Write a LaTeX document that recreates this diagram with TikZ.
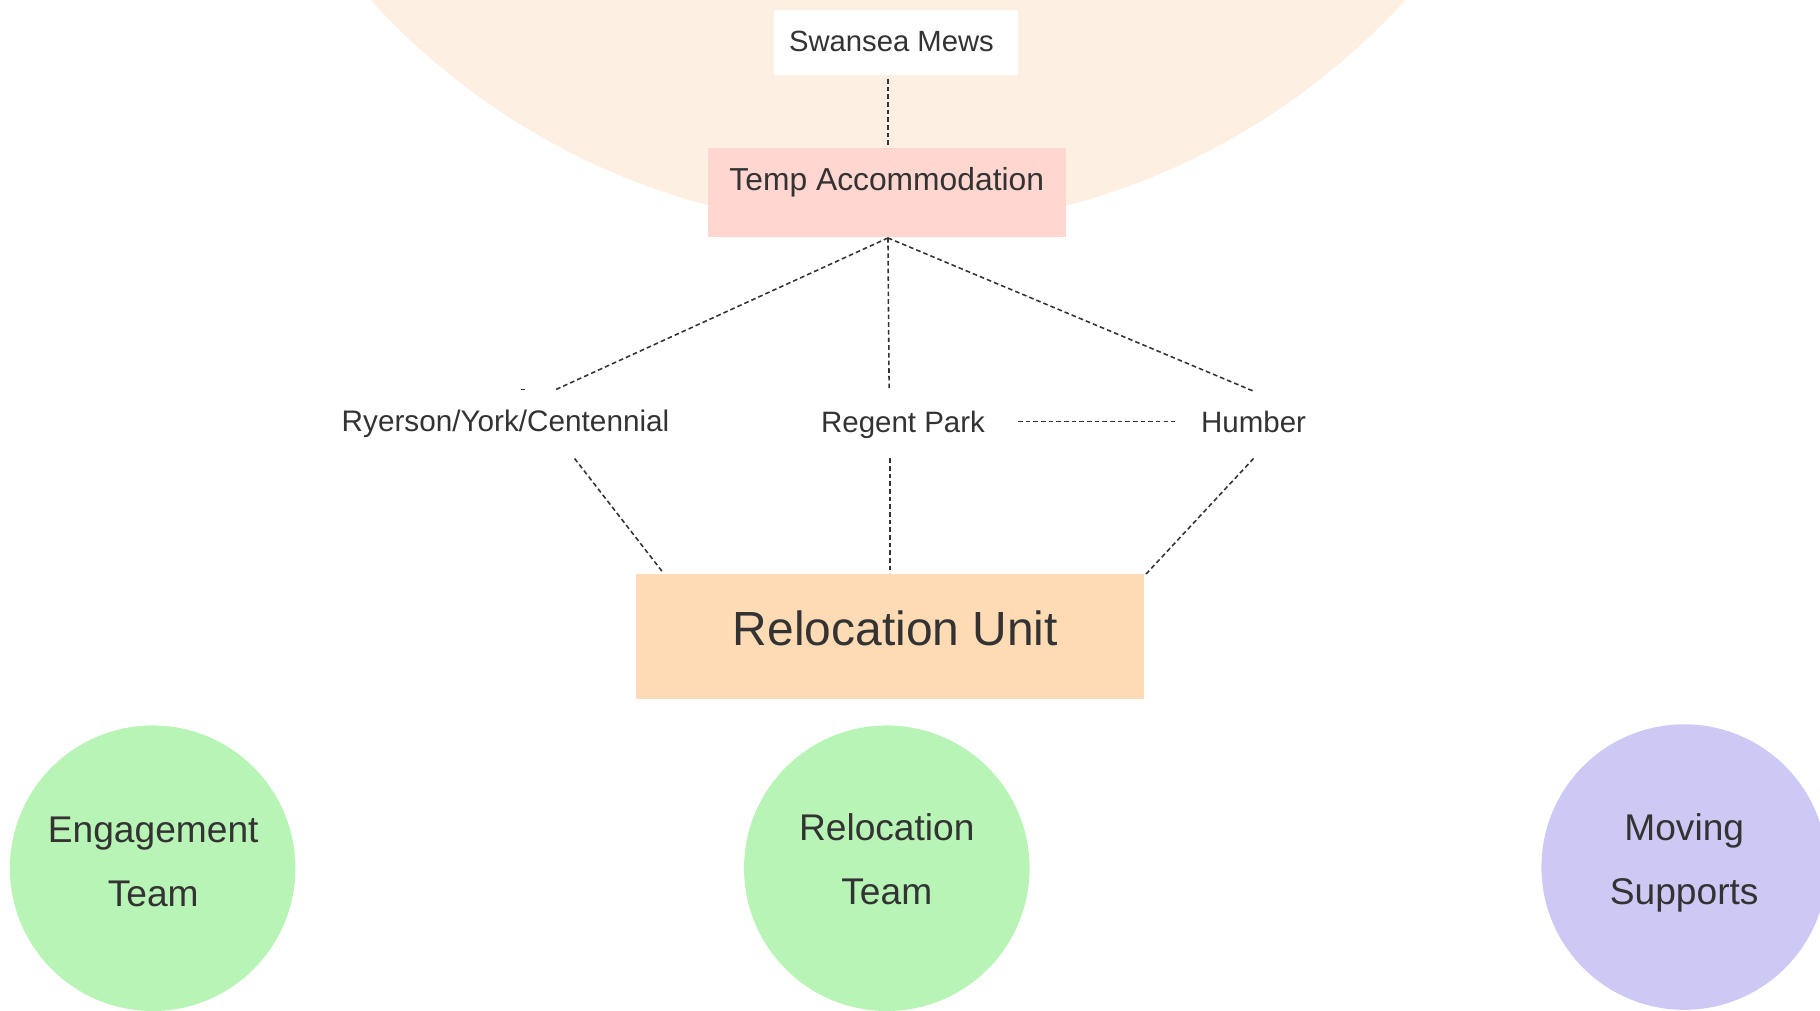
\documentclass[tikz,border=0pt]{standalone}
\usepackage{fontspec}
\setmainfont{Liberation Sans}
\definecolor{txt}{HTML}{333333}
\definecolor{bgpeach}{HTML}{FDF0E3}
\definecolor{temppink}{HTML}{FFD6D0}
\definecolor{unitpeach}{HTML}{FFDBB5}
\definecolor{teamgreen}{HTML}{B8F4B6}
\definecolor{lavender}{HTML}{CEC8F5}
\begin{document}
\begin{tikzpicture}[x=1pt,y=-1pt,
  box/.style={draw=none,rectangle,inner sep=0pt,anchor=north west},
  lbl/.style={text=txt,anchor=base,inner sep=0pt,font=\fontsize{25.4}{30}\selectfont},
  team/.style={circle,draw=none,minimum size=246pt,inner sep=0pt},
  teamtxt/.style={text=txt,anchor=base,inner sep=0pt,font=\fontsize{32}{38}\selectfont},
  conn/.style={draw=txt,line width=1.35pt,dash pattern=on 4pt off 2.6pt}]
\useasboundingbox (0,0) rectangle (1568,871);
\clip (0,0) rectangle (1568,871);
% background circle
\fill[bgpeach] (765,-406) circle (603);
% boxes
\node[box,fill=white,minimum width=210pt,minimum height=56pt] (swb) at (667,8) {};
\node[box,fill=temppink,minimum width=308pt,minimum height=77pt] (tmb) at (610,127) {};
\node[box,fill=unitpeach,minimum width=437pt,minimum height=108pt] (rub) at (548,494) {};
% texts
\node[lbl,font=\fontsize{25.2}{30}\selectfont] (swt) at (768,44) {Swansea Mews};
\node[lbl,font=\fontsize{27.4}{30}\selectfont] (tmt) at (764,164) {Temp Accommodation};
\node[lbl,font=\fontsize{41.3}{48}\selectfont] (rut) at (771.5,556) {Relocation Unit};
\node[lbl,font=\fontsize{25.6}{30}\selectfont] (ryt) at (435.5,372) {Ryerson/York/Centennial};
\node[lbl] (rpt) at (778,373) {Regent Park};
\node[lbl] (hut) at (1080,373) {Humber};
% team circles
\node[team,fill=teamgreen] (eng) at (131.5,748) {};
\node[team,fill=teamgreen] (rel) at (764,748) {};
\node[team,fill=lavender] (mov) at (1451,747) {};
\node[teamtxt] (engA) at (132,726) {Engagement};
\node[teamtxt] (engB) at (132,781) {Team};
\node[teamtxt] (relA) at (764,724) {Relocation};
\node[teamtxt] (relB) at (764,779) {Team};
\node[teamtxt] (movA) at (1451,724) {Moving};
\node[teamtxt] (movB) at (1451,779) {Supports};
% connector end points
\coordinate (swbot) at (765,68);
\coordinate (tmtop) at (765,127);
\coordinate (tmbot) at (765,205);
\coordinate (ryin) at (478,336);
\coordinate (ryinA) at (452,335.5);
\coordinate (ryinB) at (449,335.5);
\coordinate (rpin) at (766,335);
\coordinate (huin) at (1080,337);
\coordinate (rpr) at (877,363);
\coordinate (hul) at (1012,363);
\coordinate (ryout) at (495,395);
\coordinate (rpout) at (767,395);
\coordinate (huout) at (1080,395);
\coordinate (ruL) at (571,493);
\coordinate (ruM) at (767,494);
\coordinate (ruR) at (986,496);
% connectors
\draw[conn] (swbot) -- (tmtop);
\draw[conn] (tmbot) -- (ryin);
\draw[conn,dash pattern=on 3pt off 3pt] (ryinA) -- (ryinB);
\draw[conn] (tmbot) -- (rpin);
\draw[conn] (tmbot) -- (huin);
\draw[conn] (rpr) -- (hul);
\draw[conn] (ryout) -- (ruL);
\draw[conn] (rpout) -- (ruM);
\draw[conn] (huout) -- (ruR);
\end{tikzpicture}
\end{document}
